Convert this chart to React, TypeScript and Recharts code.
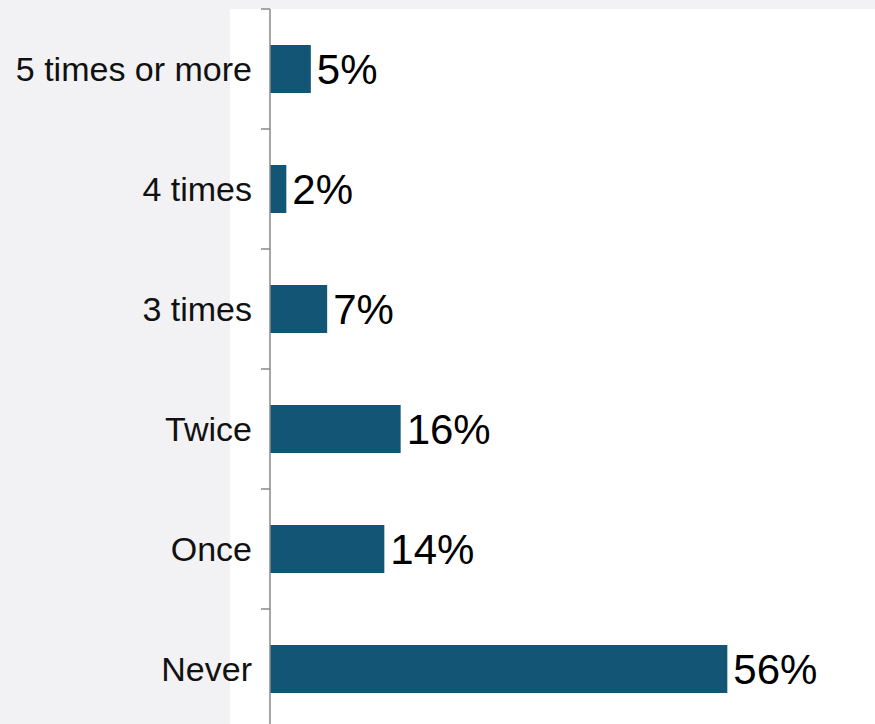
import React from "react";
import { BarChart, Bar, XAxis, YAxis, LabelList } from "recharts";

const categories = ["5 times or more", "4 times", "3 times", "Twice", "Once", "Never"];
const values = [5, 2, 7, 16, 14, 56];

const data = categories.map((c, i) => ({ name: c, value: values[i], pos: i + 0.5 }));
const boundaryTicks = categories.map((_, i) => i).concat([categories.length]);

const EmptyTick = () => <g />;

export default function App() {
  return (
    <div
      style={{
        position: "absolute",
        left: 0,
        top: 0,
        width: 875,
        height: 724,
        overflow: "hidden",
        background: "#f2f2f4",
        fontFamily: "'Liberation Sans', Arial, sans-serif",
      }}
    >
      <div
        style={{
          position: "absolute",
          left: 230,
          top: 9,
          width: 645,
          height: 715,
          background: "#ffffff",
        }}
      />
      <div style={{ position: "absolute", left: 0, top: 0 }}>
        <BarChart
          width={875}
          height={735}
          data={data}
          layout="vertical"
          margin={{ top: 9, right: 115, bottom: 6, left: 0 }}
        >
          <XAxis type="number" xAxisId="x" hide domain={[0, 60]} />
          <YAxis
            yAxisId="a"
            type="number"
            dataKey="pos"
            domain={[0, categories.length]}
            ticks={boundaryTicks}
            width={1}
            tick={EmptyTick}
            tickSize={9}
            tickLine={{ stroke: "#8a8a8a", strokeWidth: 1.5 }}
            axisLine={{ stroke: "#8a8a8a", strokeWidth: 1.5 }}
            interval={0}
          />
          <YAxis
            yAxisId="b"
            type="category"
            dataKey="name"
            width={269}
            axisLine={false}
            tickLine={false}
            tickSize={8}
            tickMargin={9}
            interval={0}
            tick={{ fill: "#111111", fontSize: 34, fontFamily: "'Liberation Sans', Arial, sans-serif" }}
          />
          <Bar
            dataKey="value"
            xAxisId="x"
            yAxisId="b"
            fill="#125574"
            barSize={48}
            isAnimationActive={false}
          >
            <LabelList
              dataKey="value"
              position="right"
              offset={6}
              formatter={(v: number) => `${v}%`}
              style={{ fill: "#000000", fontSize: 42, fontFamily: "'Liberation Sans', Arial, sans-serif" }}
            />
          </Bar>
        </BarChart>
      </div>
    </div>
  );
}
